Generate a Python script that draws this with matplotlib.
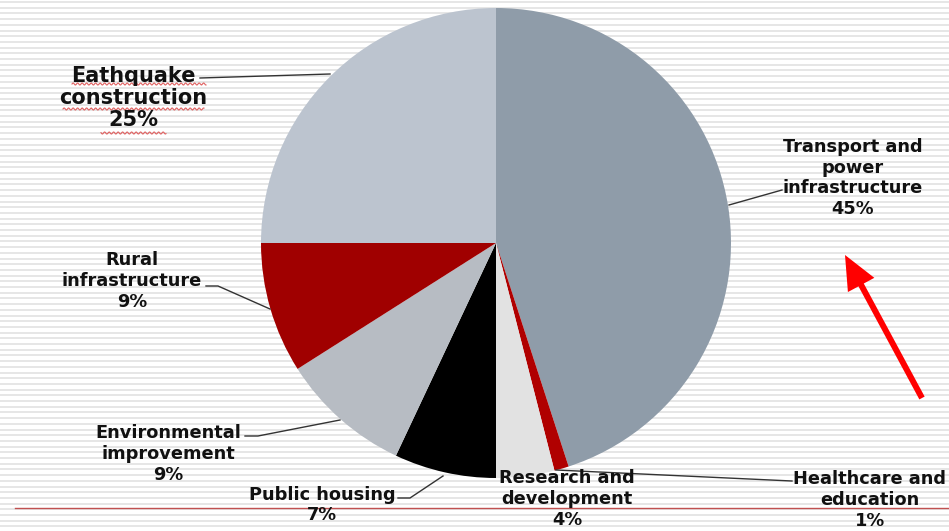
import matplotlib.pyplot as plt
import numpy as np

# slice data (clockwise from 12 o'clock)
labels = ["Transport and\npower\ninfrastructure\n45%",
          "Healthcare and\neducation\n1%",
          "Research and\ndevelopment\n4%",
          "Public housing\n7%",
          "Environmental\nimprovement\n9%",
          "Rural\ninfrastructure\n9%",
          "Eathquake\nconstruction\n25%"]
values = [45, 1, 4, 7, 9, 9, 25]
colors = ['#8f9ca9', '#b00000', '#e2e2e2', '#000000', '#b7bcc3', '#a00000', '#bcc4cf']

W, H = 949, 531
fig = plt.figure(figsize=(W / 100, H / 100), dpi=100)
ax = fig.add_axes([0, 0, 1, 1])

# striped background
for yy in np.arange(H - 2, 0, -5.7):
    ax.axhline(yy, color='#e4e4e4', lw=1.3, zorder=0)

cx, cy, r = 496, H - 243, 235
ax.pie(values, colors=colors, startangle=90, counterclock=False,
       center=(cx, cy), radius=r, frame=True,
       wedgeprops=dict(linewidth=0))
ax.set_xlim(0, W)
ax.set_ylim(0, H)
ax.set_aspect('equal')
ax.axis('off')

# red line near bottom
ax.plot([15, W], [H - 508, H - 508], color='#c05050', lw=1, zorder=1)

# labels: (x, y center of text block) in pixel coords, font size
pos = [(853, 178, 12.8), (870, 500, 12.8), (567, 499, 12.8), (322, 505, 12.8),
       (168, 454, 12.8), (132, 281, 12.8), (133, 98, 15)]
for lab, (x, y, fs) in zip(labels, pos):
    ax.text(x, H - y, lab, ha='center', va='center', fontsize=fs,
            fontweight='bold', color='#111111', linespacing=1.2 if fs < 14 else 1.13,
            family='DejaVu Sans', zorder=5)

# spell-check squiggles under the earthquake label
for x0, x1, yy in [(72, 206, 84), (63, 204, 109), (101, 166, 133)]:
    xs = np.linspace(x0, x1, int((x1 - x0) * 3))
    ax.plot(xs, H - yy + 1.0 * np.sin(xs * 2 * np.pi / 4.5), color='#e06060', lw=0.8, zorder=4)

# leader lines (pixel coords)
leaders = [[(729, 205), (782, 190)],
           [(556, 470), (792, 481)],
           [(443, 476), (410, 498), (398, 498)],
           [(340, 420), (258, 436), (245, 436)],
           [(270, 309), (218, 286), (206, 286)],
           [(330, 74), (200, 78)]]
for seg in leaders:
    xs = [p[0] for p in seg]
    ys = [H - p[1] for p in seg]
    ax.plot(xs, ys, color='#333333', lw=1, zorder=4)

# red arrow
ax.arrow(922, H - 398, -77, 143, width=6, head_width=30, head_length=34,
         length_includes_head=True, color='#ff0000', lw=0, zorder=6)

fig.savefig('out.png', dpi=100)
